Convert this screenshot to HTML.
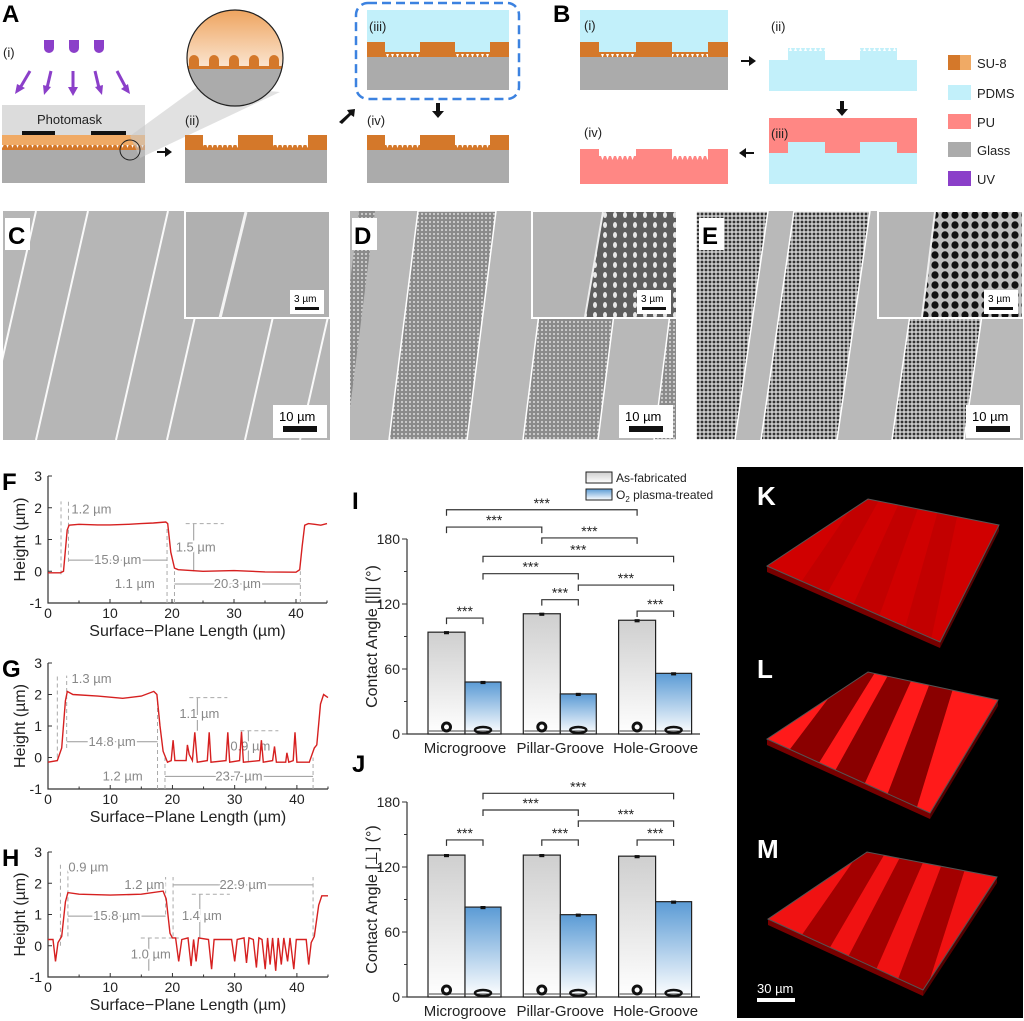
<!DOCTYPE html>
<html><head><meta charset="utf-8"><style>
body{margin:0;background:#fff;}
svg{display:block;font-family:"Liberation Sans",Arial,sans-serif;}
.pl{font-weight:bold;font-size:24px;}
.t{font-size:13px;fill:#222;}
</style></head><body>
<svg id="fig" width="1024" height="1021" viewBox="0 0 1024 1021" xmlns="http://www.w3.org/2000/svg">
<defs>
<pattern id="teeth" width="5" height="6" patternUnits="userSpaceOnUse"><rect width="5" height="6" fill="#d4782a"/><path d="M1 0 L2.5 4 L4 0Z" fill="#fff"/></pattern>
<pattern id="teethP" width="5" height="6" patternUnits="userSpaceOnUse"><rect width="5" height="6" fill="#c2f0fa"/><path d="M1 0 L2.5 4 L4 0Z" fill="#fff"/></pattern>
<pattern id="teethU" width="5" height="6" patternUnits="userSpaceOnUse"><rect width="5" height="6" fill="#ff8784"/><path d="M1 0 L2.5 4 L4 0Z" fill="#fff"/></pattern>
<linearGradient id="zoomG" x1="0" y1="0" x2="0" y2="1"><stop offset="0" stop-color="#eea45f"/><stop offset="1" stop-color="#fbe6d2"/></linearGradient>
<linearGradient id="grayBar" x1="0" y1="0" x2="0" y2="1"><stop offset="0" stop-color="#cfcfcf"/><stop offset="1" stop-color="#ffffff"/></linearGradient>
<linearGradient id="blueBar" x1="0" y1="0" x2="0" y2="1"><stop offset="0" stop-color="#5b9bd5"/><stop offset="1" stop-color="#ffffff"/></linearGradient>
<pattern id="pillars" width="4" height="4" patternUnits="userSpaceOnUse"><rect width="4" height="4" fill="#8a8a8a"/><circle cx="2" cy="2" r="1.1" fill="#cfcfcf"/></pattern>
<pattern id="holes" width="4" height="4" patternUnits="userSpaceOnUse"><rect width="4" height="4" fill="#c8c8c8"/><circle cx="2" cy="2" r="1.4" fill="#333"/></pattern>
<pattern id="pillarsBig" width="10" height="10" patternUnits="userSpaceOnUse"><rect width="10" height="10" fill="#5e5e5e"/><ellipse cx="5" cy="5" rx="2" ry="3" fill="#e8e8e8"/></pattern>
<pattern id="holesBig" width="10" height="10" patternUnits="userSpaceOnUse"><rect width="10" height="10" fill="#bdbdbd"/><ellipse cx="5" cy="5" rx="3.6" ry="3.8" fill="#111"/></pattern>
<clipPath id="cC"><rect x="3" y="211" width="327" height="229"/></clipPath>
<clipPath id="cD"><rect x="350" y="211" width="326" height="229"/></clipPath>
<clipPath id="cE"><rect x="696" y="211" width="327" height="229"/></clipPath>
<clipPath id="zc"><circle cx="235" cy="58" r="48"/></clipPath>
</defs>

<g>
<text class="pl" x="2" y="22">A</text>
<text class="t" x="3" y="57" font-size="15">(i)</text>
<g fill="#8b3fc9">
<path d="M44 40h10v8a5 5 0 0 1-10 0z"/><path d="M69 40h10v8a5 5 0 0 1-10 0z"/><path d="M94 40h10v8a5 5 0 0 1-10 0z"/>
</g>
<g stroke="#8b3fc9" stroke-width="3" fill="#8b3fc9">
<line x1="30" y1="71" x2="20" y2="88"/><path d="M15 94l2-10 8 4z" stroke="none"/>
<line x1="51" y1="71" x2="47" y2="88"/><path d="M44 95l-1-10 8 2z" stroke="none"/>
<line x1="73" y1="71" x2="73" y2="88"/><path d="M73 96l-5-9h10z" stroke="none"/>
<line x1="95" y1="71" x2="99" y2="88"/><path d="M102 95l-7-8 8-2z" stroke="none"/>
<line x1="117" y1="71" x2="126" y2="88"/><path d="M130 94l-9-5 7-5z" stroke="none"/>
</g>
<rect x="2" y="105" width="143" height="30" fill="#dcdcdc"/>
<text class="t" x="37" y="124" font-size="13">Photomask</text>
<rect x="22" y="131" width="33" height="4" fill="#111"/><rect x="91" y="131" width="35" height="4" fill="#111"/>
<rect x="2" y="135" width="143" height="10" fill="#f0aa65"/>
<rect x="2" y="145" width="143" height="5" fill="url(#teeth)"/>
<rect x="2" y="150" width="143" height="33" fill="#ababab"/>
<polygon points="130,136 200,85 280,92 140,158" fill="#c8c8c8" opacity="0.55"/>
<circle cx="130" cy="150" r="10" fill="none" stroke="#222" stroke-width="1"/>
<g clip-path="url(#zc)">
<rect x="187" y="10" width="96" height="58" fill="url(#zoomG)"/>
<g fill="#d4782a"><path d="M189 68v-8a5 5 0 0 1 10 0v8z"/><path d="M209 68v-8a5 5 0 0 1 10 0v8z"/><path d="M229 68v-8a5 5 0 0 1 10 0v8z"/><path d="M249 68v-8a5 5 0 0 1 10 0v8z"/><path d="M269 68v-8a5 5 0 0 1 10 0v8z"/></g>
<rect x="187" y="66" width="96" height="3" fill="#d4782a"/>
<rect x="187" y="69" width="96" height="45" fill="#ababab"/>
</g>
<circle cx="235" cy="58" r="48" fill="none" stroke="#222" stroke-width="1.2"/>
<path d="M157 151h8v-4l7 5-7 5v-4h-8z" fill="#111"/>
<text class="t" x="185" y="125" font-size="15">(ii)</text>
<g>
<rect x="185" y="145" width="142" height="5" fill="url(#teeth)"/>
<rect x="185" y="135" width="18" height="15" fill="#d4782a"/><rect x="238" y="135" width="35" height="15" fill="#d4782a"/><rect x="308" y="135" width="19" height="15" fill="#d4782a"/>
<rect x="185" y="150" width="142" height="33" fill="#ababab"/>
</g>
<path d="M339 122l10-9-2-3 8-1-1 8-3-2-9 9z" fill="#111"/>
<rect x="356" y="3" width="163" height="96" rx="12" fill="none" stroke="#3c82e0" stroke-width="2.5" stroke-dasharray="9,5"/>
<g>
<rect x="367" y="10" width="142" height="47" fill="#c2f0fa"/>
<rect x="367" y="52" width="142" height="5" fill="url(#teeth)"/>
<rect x="367" y="42" width="18" height="15" fill="#d4782a"/><rect x="420" y="42" width="35" height="15" fill="#d4782a"/><rect x="490" y="42" width="19" height="15" fill="#d4782a"/>
<rect x="367" y="57" width="142" height="33" fill="#ababab"/>
</g>
<text class="t" x="369" y="31" font-size="15">(iii)</text>
<path d="M436 103h4v8h4l-6 7-6-7h4z" fill="#111"/>
<text class="t" x="367" y="125" font-size="15">(iv)</text>
<g>
<rect x="367" y="145" width="142" height="5" fill="url(#teeth)"/>
<rect x="367" y="135" width="18" height="15" fill="#d4782a"/><rect x="420" y="135" width="35" height="15" fill="#d4782a"/><rect x="490" y="135" width="19" height="15" fill="#d4782a"/>
<rect x="367" y="150" width="142" height="33" fill="#ababab"/>
</g>
</g>

<g>
<text class="pl" x="553" y="22">B</text>
<rect x="580" y="10" width="148" height="80" fill="#c2f0fa"/>
<rect x="580" y="52" width="148" height="5" fill="url(#teeth)"/>
<rect x="580" y="42" width="19" height="15" fill="#d4782a"/><rect x="636" y="42" width="36" height="15" fill="#d4782a"/><rect x="708" y="42" width="20" height="15" fill="#d4782a"/>
<rect x="580" y="57" width="148" height="33" fill="#ababab"/>
<text class="t" x="584" y="30" font-size="15">(i)</text>
<path d="M741 60h8v-4l7 5-7 5v-4h-8z" fill="#111"/>
<text class="t" x="771" y="31" font-size="15">(ii)</text>
<g>
<rect x="769" y="60" width="148" height="31" fill="#c2f0fa"/>
<rect x="788" y="48" width="37" height="13" fill="#c2f0fa"/><rect x="860" y="48" width="37" height="13" fill="#c2f0fa"/>
<rect x="788" y="48" width="37" height="3" fill="url(#teethP)" transform="rotate(180 806.5 49.5)"/>
<rect x="860" y="48" width="37" height="3" fill="url(#teethP)" transform="rotate(180 878.5 49.5)"/>
</g>
<path d="M840 101h4v8h4l-6 7-6-7h4z" fill="#111"/>
<g>
<rect x="769" y="118" width="148" height="35" fill="#ff8784"/>
<rect x="769" y="153" width="148" height="31" fill="#c2f0fa"/>
<rect x="788" y="142" width="37" height="12" fill="#c2f0fa"/><rect x="860" y="142" width="37" height="12" fill="#c2f0fa"/>
</g>
<text class="t" x="771" y="138" font-size="15">(iii)</text>
<path d="M754 152h-8v-4l-7 5 7 5v-4h8z" fill="#111"/>
<text class="t" x="584" y="137" font-size="15">(iv)</text>
<g>
<rect x="580" y="158" width="148" height="26" fill="#ff8784"/>
<rect x="580" y="149" width="19" height="10" fill="#ff8784"/><rect x="636" y="149" width="36" height="10" fill="#ff8784"/><rect x="708" y="149" width="20" height="10" fill="#ff8784"/>
<rect x="599" y="156" width="37" height="4" fill="url(#teethU)"/><rect x="672" y="156" width="36" height="4" fill="url(#teethU)"/>
</g>
<g>
<rect x="948" y="55" width="12" height="15" fill="#d4782a"/><rect x="960" y="55" width="11" height="15" fill="#f0aa65"/>
<text class="t" x="977" y="68" font-size="14">SU-8</text>
<rect x="948" y="85" width="23" height="15" fill="#c2f0fa"/><text class="t" x="977" y="98" font-size="14">PDMS</text>
<rect x="948" y="114" width="23" height="15" fill="#ff8784"/><text class="t" x="977" y="127" font-size="14">PU</text>
<rect x="948" y="142" width="23" height="15" fill="#ababab"/><text class="t" x="977" y="155" font-size="14">Glass</text>
<rect x="948" y="171" width="23" height="15" fill="#8b3fc9"/><text class="t" x="977" y="184" font-size="14">UV</text>
</g>
</g>

<g>
<g clip-path="url(#cC)">
<rect x="3" y="211" width="327" height="229" fill="#b6b6b6"/>
<g stroke="#fafafa" stroke-width="2">
<line x1="-16" y1="440" x2="36" y2="211"/><line x1="36" y1="440" x2="88" y2="211"/><line x1="116" y1="440" x2="168" y2="211"/>
<line x1="167" y1="440" x2="219" y2="211"/><line x1="245" y1="440" x2="297" y2="211"/><line x1="300" y1="440" x2="352" y2="211"/>
</g>
</g>
<rect x="185" y="211" width="145" height="107" fill="#b0b0b0" stroke="#fff" stroke-width="2"/>
<line x1="220" y1="318" x2="246" y2="212" stroke="#f4f4f4" stroke-width="3"/>
<rect x="5" y="218" width="25" height="32" fill="#fff"/><text class="pl" x="8" y="244">C</text>
<rect x="290" y="290" width="34" height="24" fill="#fff"/><text x="294" y="302" font-size="10">3 µm</text><rect x="295" y="307" width="24" height="3" fill="#111"/>
<rect x="273" y="405" width="54" height="33" fill="#fff"/><text x="279" y="421" font-size="13">10 µm</text><rect x="283" y="426" width="34" height="6" fill="#111"/>
</g>

<g>
<g clip-path="url(#cD)">
<rect x="350" y="211" width="326" height="229" fill="#b8b8b8"/>
<polygon points="330,440 346,440 375,211 359,211" fill="url(#pillars)"/>
<polygon points="389,440 467,440 496,211 418,211" fill="url(#pillars)" stroke="#fff" stroke-width="1.5"/>
<polygon points="523,440 598,440 627,211 552,211" fill="url(#pillars)" stroke="#fff" stroke-width="1.5"/>
<polygon points="654,440 700,440 729,211 683,211" fill="url(#pillars)" stroke="#fff" stroke-width="1.5"/>
</g>
<rect x="532" y="211" width="144" height="107" fill="#b4b4b4" stroke="#fff" stroke-width="2"/>
<polygon points="585,317 676,317 676,212 603,212" fill="url(#pillarsBig)"/>
<line x1="585" y1="317" x2="603" y2="212" stroke="#eee" stroke-width="2"/>
<rect x="352" y="218" width="25" height="32" fill="#fff"/><text class="pl" x="354" y="244">D</text>
<rect x="637" y="290" width="34" height="24" fill="#fff"/><text x="641" y="302" font-size="10">3 µm</text><rect x="642" y="307" width="24" height="3" fill="#111"/>
<rect x="619" y="405" width="54" height="33" fill="#fff"/><text x="625" y="421" font-size="13">10 µm</text><rect x="629" y="426" width="34" height="6" fill="#111"/>
</g>

<g>
<g clip-path="url(#cE)">
<rect x="696" y="211" width="327" height="229" fill="#b9b9b9"/>
<polygon points="696,440 735,440 768,211 696,211" fill="url(#holes)" stroke="#fff" stroke-width="1.5"/>
<polygon points="761,440 837,440 870,211 794,211" fill="url(#holes)" stroke="#fff" stroke-width="1.5"/>
<polygon points="892,440 964,440 997,211 925,211" fill="url(#holes)" stroke="#fff" stroke-width="1.5"/>
</g>
<rect x="878" y="211" width="145" height="107" fill="#b4b4b4" stroke="#fff" stroke-width="2"/>
<polygon points="922,317 1022,317 1022,212 935,212" fill="url(#holesBig)"/>
<line x1="922" y1="317" x2="935" y2="212" stroke="#f0f0f0" stroke-width="2"/>
<rect x="699" y="218" width="25" height="32" fill="#fff"/><text class="pl" x="702" y="244">E</text>
<rect x="984" y="290" width="34" height="24" fill="#fff"/><text x="988" y="302" font-size="10">3 µm</text><rect x="989" y="307" width="24" height="3" fill="#111"/>
<rect x="966" y="405" width="54" height="33" fill="#fff"/><text x="972" y="421" font-size="13">10 µm</text><rect x="976" y="426" width="34" height="6" fill="#111"/>
</g>

<g id="profiles"></g>
<g id="bars"></g>
<g id="confocal">
<rect x="737" y="467" width="286" height="551" fill="#000"/>
</g>
</svg>
<script>
// ---------- DATA: height profiles (µm) ----------
const fX=[0,2.0,2.5,3.1,3.4,5,8,10,13,15,17,19,19.3,19.8,20.4,21,25,30,35,40,40.6,41.0,41.4,42,43,44,45];
const fY=[-0.05,-0.05,0.0,1.3,1.45,1.48,1.46,1.46,1.48,1.5,1.52,1.55,1.5,0.6,0.1,0.05,0.0,0.02,-0.02,-0.03,0.05,0.8,1.45,1.5,1.48,1.45,1.5];
const gX=[0,1.5,2.2,2.8,3.1,4,8,12,15,17,17.5,18,18.5,19.2,19.8,20.1,20.4,22.2,22.4,22.7,23.2,23.6,24,25.6,25.9,26.2,28.6,28.9,29.2,30.8,31.1,31.4,34,34.3,34.6,36.1,36.4,36.7,38.2,38.4,38.7,39.4,39.7,40,42,42.8,43.2,43.8,44.3,45];
const gY=[-0.15,-0.1,0.3,1.8,2.1,2.0,1.95,1.88,1.95,2.1,2.0,1.0,0.2,-0.15,-0.1,0.55,-0.1,-0.1,0.4,0.1,-0.1,0.8,-0.15,-0.1,0.8,-0.15,-0.1,0.8,-0.15,-0.1,0.82,-0.15,-0.1,0.55,-0.15,-0.1,0.35,-0.15,-0.15,0.15,-0.15,-0.1,0.8,-0.15,-0.15,0.3,0.4,1.7,2.0,1.9];
const hX=[0,0.8,1.2,1.6,2.2,2.8,3.2,5,10,15,18.5,19,19.6,20,20.5,21,21.5,22.5,23,23.4,23.8,24.2,25.8,26.3,26.7,29.5,30,30.4,31.5,31.9,32.3,33,33.5,33.9,34.4,34.9,35.3,35.7,36.1,36.6,37,37.5,37.9,38.5,38.9,39.5,39.9,41.5,41.9,42.3,42.8,43.5,44,45];
const hY=[0.2,0.2,-0.5,0.1,0.3,1.4,1.7,1.65,1.62,1.65,1.75,1.5,0.4,0.25,0.25,-0.5,0.2,0.25,-0.65,0.2,-0.5,0.25,0.2,-0.75,0.2,0.2,-0.5,0.2,0.25,-0.55,0.25,0.2,-0.7,0.25,0.2,-0.75,0.25,-0.6,0.25,-0.8,0.25,-0.6,0.25,-0.5,0.25,-0.75,0.2,0.2,-0.6,0.1,0.3,1.3,1.6,1.6];
const profXTicks=[0,10,20,30,40];
const profYTicks=[-1,0,1,2,3];
const fAnn=[["h",3.3,19.2,0.35,"15.9 µm"],["h",20.4,40.7,-0.4,"20.3 µm"],["v",23.5,1.5,0,"1.5 µm"],["d",2.1,-0.1,2.2],["d",3.3,0.3,2.2],["d",19.2,-1,1.4],["d",20.4,-1,0.0],["d",40.7,-1,0.0],["t",7,1.95,"1.2 µm"],["t",14,-0.4,"1.1 µm"]];
const gAnn=[["h",3.0,17.6,0.5,"14.8 µm"],["h",18.8,42.6,-0.6,"23.7 µm"],["v",24.0,1.9,0.85,"1.1 µm"],["v",32.2,0.85,-0.15,"0.9 µm"],["d",1.5,0.0,2.6],["d",3.0,0.3,2.6],["d",17.6,-1,1.9],["d",18.8,-1,0.0],["d",42.6,-1,0.0],["t",7,2.5,"1.3 µm"],["t",12,-0.6,"1.2 µm"]];
const hAnn=[["h",3.2,18.9,0.95,"15.8 µm"],["h",20.1,42.6,1.95,"22.9 µm"],["v",24.4,1.65,0.25,"1.4 µm"],["v",16.2,0.25,-0.8,"1.0 µm"],["d",2.0,0.0,2.6],["d",3.2,0.3,2.6],["d",18.9,1.0,2.2],["d",20.1,0.3,2.2],["d",42.6,0.3,2.2],["t",6.5,2.5,"0.9 µm"],["t",15.5,1.95,"1.2 µm"]];

// ---------- DATA: contact angles ----------
const categories=["Microgroove","Pillar-Groove","Hole-Groove"];
const iAsFab=[94,111,105];
const iPlasma=[48,37,56];
const jAsFab=[131,131,130];
const jPlasma=[83,76,88];
const iErrAs=[1,1,1];
const iErrPl=[1,1,1];
const jErrAs=[1,1,1];
const jErrPl=[1,1,1];
const caTicks=[0,60,120,180];
const iBrFrom=[0,0,1,3,3,4,1,0,2];
const iBrTo=[2,1,2,5,4,5,4,3,5];
const iBrVal=[207,191,181,164,148,137.5,124,107,113.5];
const jBrFrom=[3,3,4,0,1,2];
const jBrTo=[5,4,5,3,4,5];
const jBrVal=[188,172.6,162.5,145,145,145];

const NS="http://www.w3.org/2000/svg";
function mk(tag,attrs,parent){const e=document.createElementNS(NS,tag);for(const k in attrs)e.setAttribute(k,attrs[k]);if(parent)parent.appendChild(e);return e;}

const prof=document.getElementById("profiles");
function drawProfile(label,xs,ys,ann,x0,x1,yTop,yBot,name){
  const sx=v=>x0+v/45*(x1-x0);
  const sy=v=>yBot-(v+1)/4*(yBot-yTop);
  const g=mk("g",{},prof);
  
  
  const L=mk("text",{x:2,y:yTop+14,"font-size":24,"font-weight":"bold"},g);L.textContent=label;
  
  
  const ax=mk("path",{d:`M${x0} ${yTop}V${yBot}H${x1}`,fill:"none",stroke:"#333","stroke-width":1.2},g);
  
  
  for(let v=0;v<=45;v+=5){mk("line",{x1:sx(v),x2:sx(v),y1:yBot,y2:yBot-(v%10===0?4:2.5),stroke:"#333"},g);}
  profXTicks.forEach(v=>{const t=mk("text",{x:sx(v),y:yBot+15,"text-anchor":"middle","font-size":14,fill:"#222"},g);t.textContent=v;
    
    });
  profYTicks.forEach(v=>{mk("line",{x1:x0,x2:x0+4,y1:sy(v),y2:sy(v),stroke:"#333"},g);
    const t=mk("text",{x:x0-6,y:sy(v)+5,"text-anchor":"end","font-size":14,fill:"#222"},g);t.textContent=v;
    
    });
  const yt=mk("text",{transform:`translate(25 ${(yTop+yBot)/2}) rotate(-90)`,"text-anchor":"middle","font-size":16,fill:"#222"},g);yt.textContent="Height (µm)";
  
  
  const xt=mk("text",{x:(x0+x1)/2,y:yBot+33,"text-anchor":"middle","font-size":16,fill:"#222"},g);xt.textContent="Surface\u2212Plane Length (µm)";
  
  
  ann.forEach(a=>{
    let t=null;
    const ts={"font-size":13,fill:"#888",stroke:"#fff","stroke-width":4,"paint-order":"stroke"};
    if(a[0]==="d"){
      mk("line",{x1:sx(a[1]),x2:sx(a[1]),y1:sy(a[2]),y2:sy(a[3]),stroke:"#aaa","stroke-dasharray":"4,3"},g);
      return;
    }
    if(a[0]==="h"){
      mk("line",{x1:sx(a[1]),x2:sx(a[2]),y1:sy(a[3]),y2:sy(a[3]),stroke:"#999","stroke-width":1},g);
      t=mk("text",Object.assign({x:(sx(a[1])+sx(a[2]))/2,y:sy(a[3])+4,"text-anchor":"middle"},ts),g);
    }else if(a[0]==="v"){
      mk("line",{x1:sx(a[1]),x2:sx(a[1]),y1:sy(a[2]),y2:sy(a[3]),stroke:"#999","stroke-width":1},g);
      mk("line",{x1:sx(a[1])-8,x2:sx(a[1])+30,y1:sy(a[2]),y2:sy(a[2]),stroke:"#aaa","stroke-dasharray":"4,3"},g);
      t=mk("text",Object.assign({x:sx(a[1])+2,y:(sy(a[2])+sy(a[3]))/2+4,"text-anchor":"middle"},ts),g);
    }else{
      t=mk("text",Object.assign({x:sx(a[1]),y:sy(a[2])+4,"text-anchor":"middle"},ts),g);
      a=[a[0],0,0,0,a[3]];
    }
    t.textContent=a[4];
    
    
  });
  const pts=xs.map((x,i)=>sx(x).toFixed(1)+","+sy(ys[i]).toFixed(1)).join(" ");
  const pl=mk("polyline",{points:pts,fill:"none",stroke:"#d62020","stroke-width":1.4},g);
  
  
}
drawProfile("F",fX,fY,fAnn,48,327,476,603,"profile-f");
drawProfile("G",gX,gY,gAnn,48,328,663,789,"profile-g");
drawProfile("H",hX,hY,hAnn,48,328,852,977,"profile-h");

const barsG=document.getElementById("bars");
function drawBars(label,asF,pl,errA,errP,brF,brT,brV,y0,ylab,name){
  const sy=v=>y0-v*195/180;
  const cx=i=>465+i*95.3;
  const g=mk("g",{},barsG);
  
  
  const L=mk("text",{x:352,y:y0-225,"font-size":24,"font-weight":"bold"},g);L.textContent=label;
  
  
  const ax=mk("path",{d:`M407 ${sy(180)}V${y0}H700`,fill:"none",stroke:"#333","stroke-width":1.2},g);
  
  
  for(let v=0;v<=180;v+=30)mk("line",{x1:407,x2:v%60===0?402:404,y1:sy(v),y2:sy(v),stroke:"#333"},g);
  caTicks.forEach(v=>{const t=mk("text",{x:400,y:sy(v)+5,"text-anchor":"end","font-size":14,fill:"#222"},g);t.textContent=v;
    
    });
  const yt=mk("text",{transform:`translate(377 ${sy(90)}) rotate(-90)`,"text-anchor":"middle","font-size":16,fill:"#222"},g);yt.textContent=ylab;
  
  
  const barX=k=>k<3?cx(k)-18.5:cx(k-3)+18;
  categories.forEach((c,i)=>{
    const r1=mk("rect",{x:cx(i)-37,y:sy(asF[i]),width:37,height:y0-sy(asF[i]),fill:"url(#grayBar)",stroke:"#222","stroke-width":1.2},g);
    
    
    const r2=mk("rect",{x:cx(i),y:sy(pl[i]),width:36,height:y0-sy(pl[i]),fill:"url(#blueBar)",stroke:"#222","stroke-width":1.2},g);
    
    
    mk("rect",{x:cx(i)-18.5-2.5,y:sy(asF[i]+errA[i]),width:5,height:sy(asF[i]-errA[i])-sy(asF[i]+errA[i])+1,fill:"#111"},g);
    mk("rect",{x:cx(i)+18-2.5,y:sy(pl[i]+errP[i]),width:5,height:sy(pl[i]-errP[i])-sy(pl[i]+errP[i])+1,fill:"#111"},g);
    mk("line",{x1:cx(i)-36,x2:cx(i)+35,y1:y0-3,y2:y0-3,stroke:"#444","stroke-width":1},g);
    mk("circle",{cx:cx(i)-18.5,cy:y0-7,r:4,fill:"none",stroke:"#111","stroke-width":3},g);
    mk("ellipse",{cx:cx(i)+18,cy:y0-4,rx:8,ry:3,fill:"none",stroke:"#111","stroke-width":2.5},g);
    const t=mk("text",{x:cx(i),y:y0+19,"text-anchor":"middle","font-size":15,fill:"#222"},g);t.textContent=c;
    
    
  });
  brF.forEach((f,k)=>{
    const xa=barX(f),xb=barX(brT[k]),yy=sy(brV[k]);
    const p=mk("path",{d:`M${xa} ${yy+6}V${yy}H${xb}V${yy+6}`,fill:"none",stroke:"#333","stroke-width":1.2},g);
    
    
    const t=mk("text",{x:(xa+xb)/2,y:yy-2,"text-anchor":"middle","font-size":14,fill:"#222"},g);t.textContent="***";
    
    
  });
}
drawBars("I",iAsFab,iPlasma,iErrAs,iErrPl,iBrFrom,iBrTo,iBrVal,734,"Contact Angle [||] (°)","chart-i");
drawBars("J",jAsFab,jPlasma,jErrAs,jErrPl,jBrFrom,jBrTo,jBrVal,997,"Contact Angle [\u22A5] (°)","chart-j");
const lg=mk("g",{},barsG);


mk("rect",{x:586,y:472,width:26,height:11,fill:"url(#grayBar)",stroke:"#222"},lg);
mk("rect",{x:586,y:489,width:26,height:11,fill:"url(#blueBar)",stroke:"#222"},lg);
const lt1=mk("text",{x:616,y:482,"font-size":12,fill:"#222"},lg);lt1.textContent="As-fabricated";


const lt2=mk("text",{x:616,y:499,"font-size":12,fill:"#222"},lg);lt2.innerHTML='O<tspan font-size="8" dy="3">2</tspan><tspan dy="-3"> plasma-treated</tspan>';



// ---------- confocal slabs ----------
const cf=document.getElementById("confocal");
const slabCorners=[[[767,566],[868,499],[999,525],[940,642]],[[767,739],[868,672],[998,700],[930,813]],[[768,919],[867,852],[997,877],[923,990]]];
const slabLabels=["K","L","M"];
// dark bands: positions along front edge (u) ; top edge uses u - skew
const slabDark=[[[0.2,0.35],[0.5,0.65],[0.8,0.95]],[[0.14,0.32],[0.42,0.6],[0.74,0.92]],[[0.22,0.4],[0.52,0.7],[0.84,1.02]]];
const slabSkew=0.27;
const slabColors=[["#d00000","#c20000"],["#ff1a1a","#8a0000"],["#f01212","#a30000"]];
slabCorners.forEach((c,s)=>{
  const [Lc,T,R,B]=c;
  const lerp=(a,b,t)=>[a[0]+(b[0]-a[0])*t,a[1]+(b[1]-a[1])*t];
  const P=(u,v)=>lerp(lerp(Lc,B,u),lerp(T,R,u-slabSkew),v);
  const g=mk("g",{},cf);
  
  
  const clip=mk("clipPath",{id:"slabclip"+s},g);
  mk("polygon",{points:[Lc,T,R,B].map(p=>p.join(",")).join(" ")},clip);
  mk("polygon",{points:`${Lc[0]},${Lc[1]} ${B[0]},${B[1]} ${B[0]},${B[1]+6} ${Lc[0]},${Lc[1]+6}`,fill:"#700"},g);
  mk("polygon",{points:`${B[0]},${B[1]} ${R[0]},${R[1]} ${R[0]},${R[1]+6} ${B[0]},${B[1]+6}`,fill:"#500"},g);
  mk("polygon",{points:[Lc,T,R,B].map(p=>p.join(",")).join(" "),fill:slabColors[s][0]},g);
  const bg=mk("g",{"clip-path":`url(#slabclip${s})`},g);
  slabDark[s].forEach(d=>{
    const q=[P(d[0],0),P(d[1],0),P(d[1],1),P(d[0],1)];
    mk("polygon",{points:q.map(p=>p.join(",")).join(" "),fill:slabColors[s][1]},bg);
  });
  mk("polygon",{points:[Lc,T,R,B].map(p=>p.join(",")).join(" "),fill:"none",stroke:"#555","stroke-width":1},g);
  const t=mk("text",{x:757,y:T[1]+6,"font-size":26,"font-weight":"bold",fill:"#fff"},g);t.textContent=slabLabels[s];
  
  
});
const sbt=mk("text",{x:757,y:993,"font-size":13,fill:"#fff"},cf);sbt.textContent="30 µm";


mk("rect",{x:757,y:998,width:38,height:4,fill:"#fff"},cf);
</script>
</body></html>
